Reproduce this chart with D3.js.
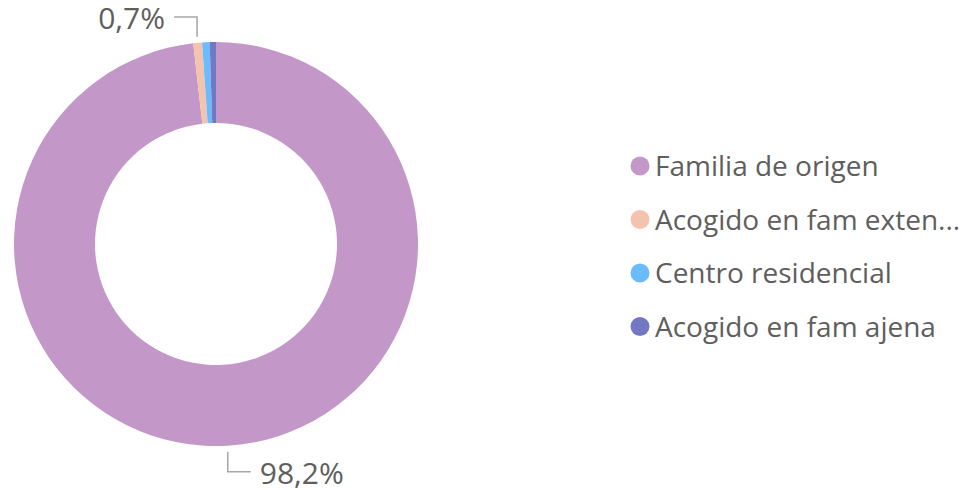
<!DOCTYPE html>
<html>
<head>
<meta charset="utf-8">
<script src="https://cdn.jsdelivr.net/npm/d3@7"></script>
<style>
  body { margin: 0; background: #fff; }
  text { font-family: "Open Sans", "Noto Sans", sans-serif; fill: #605E5C; }
</style>
</head>
<body>
<div id="chart"></div>
<script>
// data
const categories = ["Familia de origen", "Acogido en fam extensa", "Centro residencial", "Acogido en fam ajena"];
const legendLabels = ["Familia de origen", "Acogido en fam exten...", "Centro residencial", "Acogido en fam ajena"];
const values = [98.2, 0.7, 0.6, 0.5];
const colors = ["#C398C9", "#F4C3AD", "#6CBBFD", "#7378C4"];
const labelText = ["98,2%", "0,7%", null, null];

const width = 963, height = 490;
const cx = 216, cy = 244, outerR = 202, innerR = 121;

const svg = d3.select("#chart").append("svg")
    .attr("width", width)
    .attr("height", height);

const g = svg.append("g").attr("transform", `translate(${cx},${cy})`);

const pie = d3.pie().sort(null).value(d => d);
const arcs = pie(values);

const arc = d3.arc().innerRadius(innerR).outerRadius(outerR);

g.selectAll("path.slice")
    .data(arcs)
    .enter()
    .append("path")
    .attr("class", "slice")
    .attr("d", arc)
    .attr("fill", (d, i) => colors[i]);

//leader lines + labels
arcs.forEach(function (d, i) {
    if (!labelText[i]) return;
    const mid = (d.startAngle + d.endAngle) / 2;
    const x = Math.sin(mid);
    const y = -Math.cos(mid);
    const r1 = outerR + 6, r2 = outerR + 26;
    const x0 = x * r1, y0 = y * r1;
    const y1 = y * r2;
    // go vertical then horizontal, side depends on where it sits
    const dir = (i === 0) ? 1 : -1;
    const x2 = x0 + dir * 23;
    g.append("polyline")
        .attr("points", `${x0},${y0} ${x0},${y1} ${x2},${y1}`)
        .attr("fill", "none")
        .attr("stroke", "#A6A6A6")
        .attr("stroke-width", 1.5);
    g.append("text")
        .attr("x", x2 + dir * 9)
        .attr("y", y1)
        .attr("dy", "0.4em")
        .attr("text-anchor", dir > 0 ? "start" : "end")
        .style("font-size", "30px")
        .text(labelText[i]);
});

// legend
const legend = svg.append("g").attr("transform", "translate(640,166)");
const item = legend.selectAll("g.item")
    .data(legendLabels)
    .enter()
    .append("g")
    .attr("class", "item")
    .attr("transform", (d, i) => `translate(0,${i * 53.5})`);

item.append("circle")
    .attr("r", 9.5)
    .attr("fill", (d, i) => colors[i]);

item.append("text")
    .attr("x", 15)
    .attr("dy", "0.36em")
    .style("font-size", "28px")
    .text(d => d);
</script>
</body>
</html>
